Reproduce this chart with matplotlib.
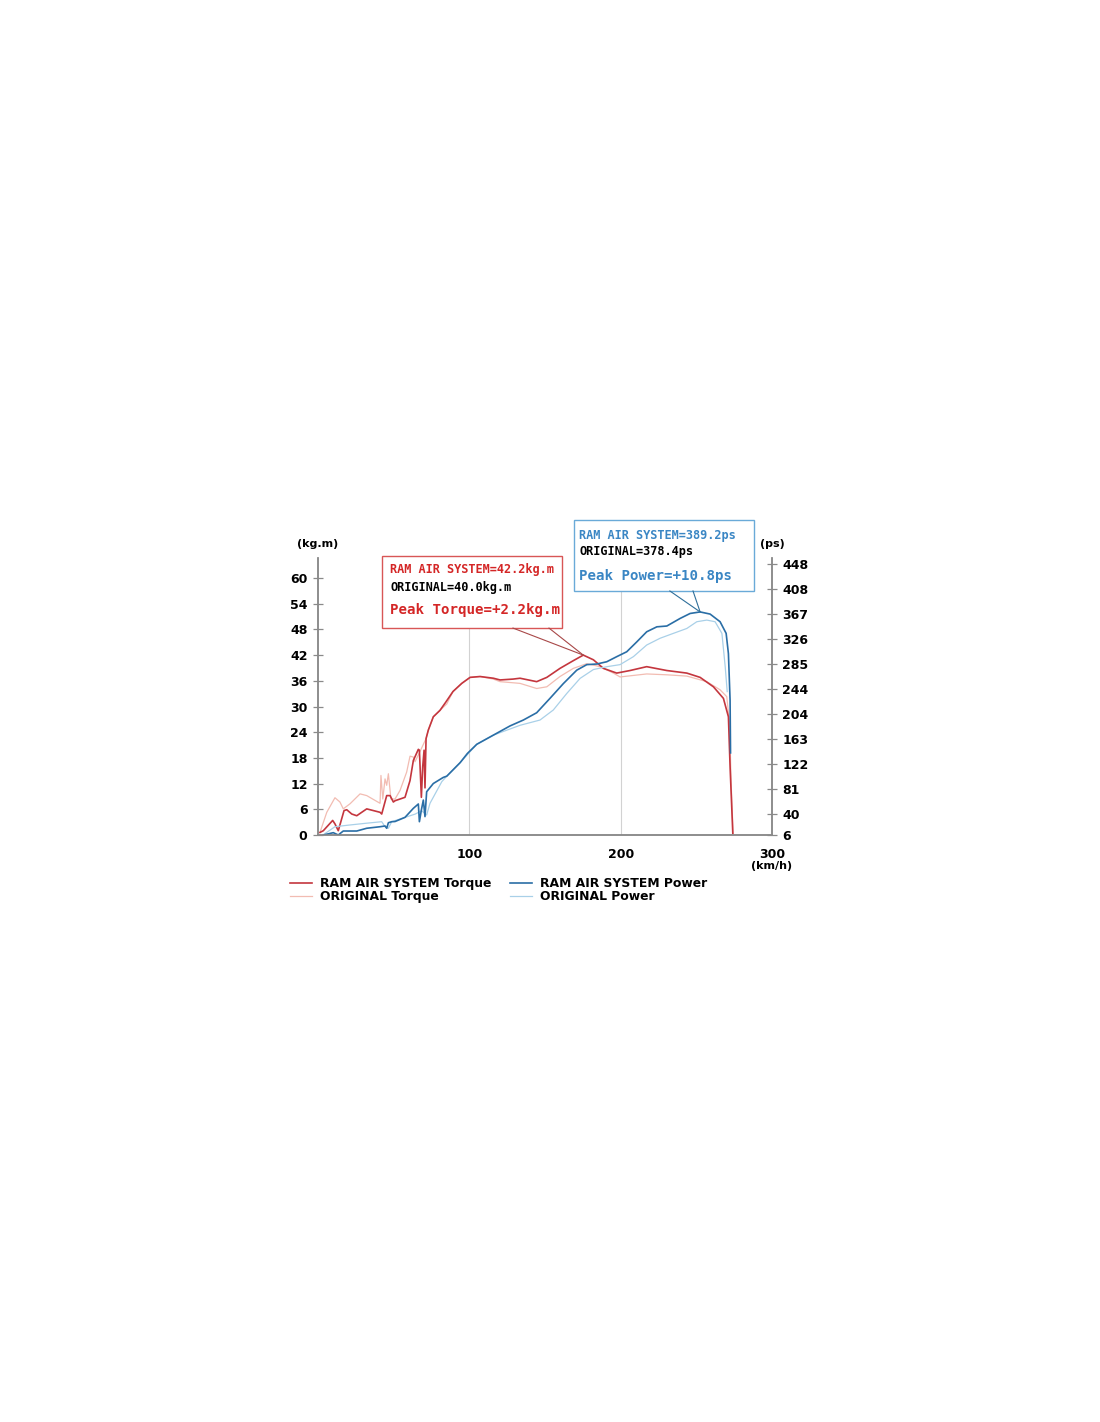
import numpy as np
import matplotlib
matplotlib.use("Agg")
import matplotlib.pyplot as plt
from matplotlib.patches import Rectangle
from matplotlib.lines import Line2D

# speed (km/h) and torque (kg.m), RAM AIR SYSTEM
ram_torque_x = [1.3, 3.5, 9.7, 11.2, 13.4, 17.2, 19.0, 22.3, 25.6, 32.2, 41.0, 42.1, 45.4, 47.6,
                49.8, 50.9, 57.5, 60.8, 63.0, 66.3, 67.0, 68.3, 69.2, 70.1, 70.7, 71.4, 72.9, 76.2,
                80.6, 84.4, 89.2, 95.0, 100.5, 107.1, 115.9, 120.3, 128.9, 133.5, 144.5, 151.2,
                159.9, 168.7, 175.3, 182.0, 188.6, 197.4, 206.2, 217.2, 230.5, 243.7, 252.5,
                261.3, 267.9, 271.2, 272.3, 274.1]
ram_torque = [0.6, 1.0, 3.4, 2.6, 1.0, 5.7, 5.9, 4.9, 4.5, 6.1, 5.3, 4.9, 9.2, 9.2,
              7.7, 8.0, 8.8, 12.7, 17.4, 20.0, 19.8, 8.8, 16.0, 19.8, 11.0, 22.5, 24.5, 27.6,
              29.1, 31.0, 33.5, 35.4, 36.8, 37.0, 36.6, 36.2, 36.4, 36.6, 35.8, 36.8,
              38.9, 40.7, 42.0, 40.9, 38.9, 37.8, 38.4, 39.3, 38.4, 37.8, 36.8,
              34.6, 31.9, 27.6, 16.0, 0.4]

# ORIGINAL torque
orig_torque_x = [1.3, 5.8, 11.2, 14.5, 16.7, 21.2, 27.8, 32.2, 41.0, 41.6, 42.8, 44.3, 45.4,
                 46.5, 48.2, 50.9, 54.2, 58.6, 60.8, 63.0, 64.1, 67.4, 71.4, 72.9, 76.2, 80.6,
                 85.1, 89.2, 95.0, 100.5, 107.1, 115.9, 120.3, 133.5, 144.5, 151.2, 159.9,
                 168.7, 177.6, 186.4, 195.2, 199.6, 217.2, 230.5, 243.7, 256.9, 265.7, 270.1,
                 272.0, 273.0, 274.3]
orig_torque = [0.6, 5.3, 8.7, 7.7, 6.1, 7.3, 9.6, 9.2, 7.4, 13.9, 8.4, 13.1, 11.6,
               14.3, 8.4, 8.4, 10.4, 14.7, 18.4, 18.2, 17.1, 19.5, 22.5, 24.5, 27.6, 29.1,
               30.6, 33.5, 35.4, 36.8, 37.0, 36.4, 35.8, 35.4, 34.2, 34.6, 37.0,
               38.9, 40.0, 39.3, 37.8, 36.9, 37.6, 37.4, 37.1, 35.8, 33.9, 32.3,
               26.0, 12.0, 0.4]

# power (ps), RAM AIR SYSTEM
ram_power_x = [3.5, 10.1, 13.4, 16.7, 25.6, 32.2, 41.0, 44.3, 45.4, 46.5, 48.7, 50.9, 57.5,
               63.0, 66.3, 67.0, 68.3, 69.6, 70.7, 71.8, 76.2, 82.8, 85.1, 93.9, 98.7, 104.9,
               115.9, 126.9, 135.7, 144.5, 153.3, 162.1, 171.0, 177.6, 184.2, 190.8, 197.4,
               204.0, 210.6, 217.2, 223.9, 230.5, 239.3, 245.9, 252.5, 259.1, 265.7, 269.7,
               271.2, 272.3, 272.6]
ram_power = [6, 9.8, 6, 12.5, 12.5, 17, 19.5, 20.7, 17, 26, 27.7, 28, 34.8,
             49.5, 56.6, 27.7, 46.8, 63, 36, 76.6, 90, 100, 102, 124, 139, 154,
             169, 184, 193.6, 205.5, 229, 253, 275, 284, 285, 288.7, 297,
             305, 321, 337.6, 345.7, 347, 359.4, 367.5, 370, 366.5, 354, 335,
             302, 226, 140]

# ORIGINAL power
orig_power_x = [3.3, 11.2, 19.8, 31.1, 42.1, 44.3, 46.5, 48.7, 55.3, 64.1, 68.5, 71.8, 74.0,
                81.8, 85.1, 93.9, 104.9, 115.9, 120.3, 133.5, 146.7, 155.5, 164.4, 173.2,
                182.0, 190.8, 199.6, 208.4, 217.2, 226.0, 234.8, 243.7, 250.3, 256.9, 262.4,
                266.9, 269.1, 270.4]
orig_power = [6, 19.5, 22, 25, 27.7, 19.5, 17, 27.7, 33, 40, 45.6, 38.6, 57.7,
              93, 102, 124, 154, 169, 173, 185, 193.6, 210, 237, 261.6,
              276, 280.6, 284, 297, 316, 327, 335, 343, 354, 356.7, 354,
              335, 280, 240]

torque_ticks = [0, 6, 12, 18, 24, 30, 36, 42, 48, 54, 60]
power_ticks = [6, 40, 81, 122, 163, 204, 244, 285, 326, 367, 408, 448]
speed_ticks = [100, 200, 300]

c_ram_t = "#c4363e"
c_orig_t = "#f2bcb2"
c_ram_p = "#2a6ea6"
c_orig_p = "#a9d0e8"
c_red_txt = "#d42626"
c_blue_txt = "#3a86c4"
spine_c = "#8a8a8a"

fig = plt.figure(figsize=(11, 14.22), dpi=100)
ax = fig.add_axes([318 / 1100, 587 / 1422, 454 / 1100, 277 / 1422])
ax2 = ax.twinx()

ax.set_xlim(0, 300)
ax.set_ylim(0, 64.67)
ax2.set_ylim(6, 458)

for x in [100, 200]:
    ax.axvline(x, color="#d2d2d2", lw=0.8, zorder=0)

ax.plot(orig_torque_x, orig_torque, color=c_orig_t, lw=0.9)
ax.plot(ram_torque_x, ram_torque, color=c_ram_t, lw=1.2)
ax2.plot(orig_power_x, orig_power, color=c_orig_p, lw=0.9)
ax2.plot(ram_power_x, ram_power, color=c_ram_p, lw=1.2)

for a in (ax, ax2):
    a.spines["top"].set_visible(False)
    for s in ("left", "right", "bottom"):
        a.spines[s].set_color(spine_c)
        a.spines[s].set_linewidth(1.1)

ax.set_xticks(speed_ticks)
ax.set_xticklabels([str(v) for v in speed_ticks], fontsize=9, fontweight="bold")
ax.tick_params(axis="x", length=0, pad=9)
ax.set_yticks(torque_ticks)
ax.set_yticklabels([str(v) for v in torque_ticks], fontsize=9, fontweight="bold")
ax.tick_params(axis="y", direction="inout", length=7, width=0.9, color=spine_c, pad=4)
ax2.set_yticks(power_ticks)
ax2.set_yticklabels([str(v) for v in power_ticks], fontsize=9, fontweight="bold")
ax2.tick_params(axis="y", direction="inout", length=7, width=0.9, color=spine_c, pad=4)

ax.text(0, 1.05, "(kg.m)", transform=ax.transAxes, ha="center", va="center",
        fontsize=8, fontweight="bold")
ax.text(1, 1.05, "(ps)", transform=ax.transAxes, ha="center", va="center",
        fontsize=8, fontweight="bold")
ax.text(1, -0.112, "(km/h)", transform=ax.transAxes, ha="center", va="center",
        fontsize=8, fontweight="bold")

# callout boxes
mono = "DejaVu Sans Mono"


def callout(x0, x1, y0, y1, roots, tip_ax, edge, line_c):
    ax2.add_patch(Rectangle((x0, y0), x1 - x0, y1 - y0, transform=ax2.transAxes,
                            clip_on=False, fc="white", ec=edge, lw=1.0, zorder=5))
    for r in roots:
        ax2.plot([r, tip_ax[0]], [y0, tip_ax[1]], transform=ax2.transAxes,
                 color=line_c, lw=0.8, clip_on=False, zorder=6)


def to_axes(a, pt):
    return a.transAxes.inverted().transform(a.transData.transform(pt))


i_t = int(np.argmax(ram_torque))
tip_t = to_axes(ax, (ram_torque_x[i_t], ram_torque[i_t]))
callout(0.141, 0.537, 0.747, 1.007, [0.4295, 0.5088], tip_t, "#d85656", "#a84848")
ax2.text(0.1586, 0.960, "RAM AIR SYSTEM=42.2kg.m", transform=ax2.transAxes, color=c_red_txt,
         family=mono, fontsize=8.6, fontweight="bold", va="center", zorder=7)
ax2.text(0.1586, 0.895, "ORIGINAL=40.0kg.m", transform=ax2.transAxes, color="black",
         family=mono, fontsize=8.6, fontweight="bold", va="center", zorder=7)
ax2.text(0.1586, 0.812, "Peak Torque=+2.2kg.m", transform=ax2.transAxes, color=c_red_txt,
         family=mono, fontsize=10.2, fontweight="bold", va="center", zorder=7)

i_p = int(np.argmax(ram_power))
tip_p = to_axes(ax2, (ram_power_x[i_p], ram_power[i_p]))
callout(0.564, 0.960, 0.881, 1.137, [0.775, 0.826], tip_p, "#6aaad8", "#2f6f9a")
ax2.text(0.575, 1.0805, "RAM AIR SYSTEM=389.2ps", transform=ax2.transAxes, color=c_blue_txt,
         family=mono, fontsize=8.6, fontweight="bold", va="center", zorder=7)
ax2.text(0.575, 1.0227, "ORIGINAL=378.4ps", transform=ax2.transAxes, color="black",
         family=mono, fontsize=8.6, fontweight="bold", va="center", zorder=7)
ax2.text(0.575, 0.936, "Peak Power=+10.8ps", transform=ax2.transAxes, color=c_blue_txt,
         family=mono, fontsize=10.2, fontweight="bold", va="center", zorder=7)

handles = [Line2D([], [], color=c_ram_t, lw=1.2), Line2D([], [], color=c_orig_t, lw=0.9),
           Line2D([], [], color=c_ram_p, lw=1.2), Line2D([], [], color=c_orig_p, lw=0.9)]
labels = ["RAM AIR SYSTEM Torque", "ORIGINAL Torque", "RAM AIR SYSTEM Power", "ORIGINAL Power"]
fig.legend(handles, labels, loc="upper left", bbox_to_anchor=(290 / 1100, 1 - 877 / 1422),
           ncol=2, frameon=False, borderpad=0, borderaxespad=0, handlelength=1.8,
           handletextpad=0.6, columnspacing=1.55, labelspacing=0.0,
           prop={"size": 8.9, "weight": "bold"})

fig.savefig("out.png", dpi=100, facecolor="white")
